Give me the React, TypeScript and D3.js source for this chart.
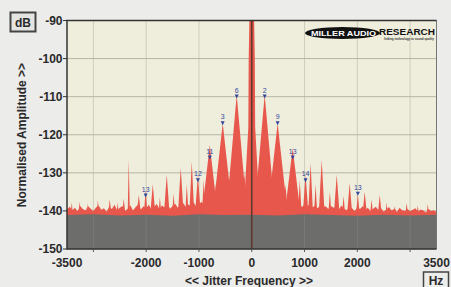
import * as d3 from 'd3'

// jitter spectrum, red = measured, grey = floor
const xTickValues = [-3500, -2000, -1000, 0, 1000, 2000, 3500]
const xGridValues = [-3000, -2000, -1000, 0, 1000, 2000, 3000]
const yTickValues = [-90, -100, -110, -120, -130, -140, -150]

// noise floor of the red trace, 50 Hz bins from -3500 to 3500
const noiseDb = [
  -139.6, -138.9, -139.8, -139.2, -140.1, -138.7, -139.5, -139.9, -138.8, -139.4,
  -140.0, -139.1, -138.6, -139.7, -139.3, -140.2, -138.9, -139.5, -138.4, -139.8,
  -139.2, -138.7, -140.0, -139.4, -138.5, -139.9, -139.0, -138.3, -139.6, -138.8,
  -139.3, -138.4, -139.7, -138.9, -138.2, -139.5, -138.6, -139.1, -138.0, -139.4,
  -138.7, -138.1, -139.2, -138.5, -137.9, -139.0, -138.3, -138.8, -137.8, -138.9,
  -138.2, -137.6, -138.7, -138.0, -137.5, -138.6, -137.8, -138.3, -137.4, -138.5,
  -137.7, -137.2, -138.1, -137.5, -137.0, -137.9, -137.3, -137.6, -136.8, -137.4,
  -137.0,
  -137.3, -136.9, -137.8, -137.1, -137.6, -138.0, -137.4, -138.2, -137.7, -138.4,
  -137.9, -138.5, -137.6, -138.3, -138.8, -137.9, -138.6, -138.1, -139.0, -138.4,
  -138.9, -138.2, -139.1, -138.6, -139.3, -138.5, -139.0, -138.8, -139.5, -138.7,
  -139.2, -138.9, -139.6, -138.6, -139.4, -139.8, -138.9, -139.3, -140.0, -139.1,
  -139.5, -138.8, -139.7, -139.2, -140.1, -139.4, -138.9, -139.8, -139.3, -140.2,
  -139.6, -139.0, -139.9, -139.4, -140.3, -139.2, -139.8, -140.0, -139.5, -140.1,
  -139.7, -139.3, -140.2, -139.6, -139.9, -140.4, -139.5, -140.0, -139.8, -140.3,
]
const noiseFreqs = d3.range(-3500, 3501, 50)

// jitter sidebands: centre freq (Hz), top (dB), half width at base (Hz)
const peakFreqs = [
  -3410, -3260, -3105, -2915, -2690, -2540, -2425, -2330, -2140, -2010, -1875, -1740,
  -1610, -1480, -1345, -1230, -1136, -1020, -910, -795, -680, -550, -420, -285, -140,
  140, 245, 375, 490, 640, 775, 910, 1020, 1115, 1210, 1325, 1480, 1610, 1740, 1855,
  2010, 2140, 2270, 2425, 2555, 2710, 2935, 3145, 3335,
]
const peakTops = [
  -137.8, -137.5, -138, -137.2, -137, -137.8, -136.8, -126.5, -135.8, -134.5, -133, -136.5,
  -130.5, -135.5, -128.7, -133, -127, -130.5, -132, -122.7, -133, -117, -131, -109.5, -130,
  -130, -109.5, -131, -117, -133, -123.5, -132, -130.5, -127.5, -133, -126.6, -135, -130.5,
  -136, -132.7, -135.5, -135, -137, -135.8, -137.8, -138.8, -138, -138.5, -138.2,
]
const peakWidths = [
  30, 30, 25, 30, 40, 30, 40, 22, 50, 40, 55, 35,
  60, 35, 60, 35, 50, 60, 40, 160, 50, 200, 50, 205, 60,
  60, 205, 50, 200, 50, 160, 40, 60, 50, 35, 60, 35, 60,
  35, 55, 40, 50, 35, 45, 30, 40, 35, 30, 30,
]

// the test tone itself at 0 Hz
const carrierShape: [number, number][] = [
  [-160, -142], [-65, -118], [-58, -100], [-45, -90],
  [45, -90], [58, -100], [65, -118], [160, -142],
]

// grey trace (floor)
const floorFreqs = [-3500, -3000, -2500, -2000, -1500, -1000, -500, 0, 500, 1000, 1500, 2000, 2500, 3000, 3500]
const floorDb = [-141.1, -140.9, -141.2, -141.0, -141.3, -140.9, -141.1, -141.0, -141.2, -140.9, -141.1, -141.3, -141.0, -141.2, -141.0]

// numbered markers
const markerFreqs = [-2010, -1020, -795, -550, -285, 245, 490, 775, 1020, 2010]
const markerDb = [-136.5, -132.5, -126.5, -117.5, -110.5, -110.5, -117.5, -126.5, -132.5, -136]
const markerLabels = ['13', '12', '11', '3', '6', '2', '9', '13', '14', '13']

export default function App() {
  const width = 451
  const height = 287
  const plot = { left: 67, right: 436.5, top: 20.5, bottom: 249 }

  const x = d3.scaleLinear().domain([-3500, 3500]).range([plot.left, plot.right])
  const y = d3.scaleLinear().domain([-150, -90]).range([plot.bottom, plot.top])

  const area = d3
    .area<[number, number]>()
    .x((d) => x(d[0]))
    .y0(y(-150))
    .y1((d) => y(d[1]))

  const noise = noiseFreqs.map((f, i) => [f, noiseDb[i]] as [number, number])
  const floor = floorFreqs.map((f, i) => [f, floorDb[i]] as [number, number])
  const peaks = peakFreqs.map(
    (f, i) =>
      [
        [f - peakWidths[i], -142],
        [f, peakTops[i]],
        [f + peakWidths[i], -142],
      ] as [number, number][],
  )

  const red = '#e8574c'
  const blue = '#34469a'
  const font = '"Liberation Sans", Arial, sans-serif'

  return (
    <svg
      width={width}
      height={height}
      style={{ position: 'absolute', left: 0, top: 0 }}
      fontFamily={font}
      fontWeight="bold"
    >
      <rect width={width} height={height} fill="#ececea" />
      <rect
        x={plot.left}
        y={plot.top}
        width={plot.right - plot.left}
        height={plot.bottom - plot.top}
        fill="#efeedd"
      />

      {/* grid */}
      <g>
        {xGridValues.map((v) => (
          <line key={v} x1={x(v)} x2={x(v)} y1={plot.top} y2={plot.bottom} stroke="#cfcdbc" />
        ))}
        {yTickValues.map((v) => (
          <line key={v} x1={plot.left} x2={plot.right} y1={y(v)} y2={y(v)} stroke="#b7b5a5" />
        ))}
      </g>

      {/* red spectrum */}
      <g fill={red}>
        <path d={area(noise)!} />
        {peaks.map((p, i) => (
          <path key={i} d={area(p)!} />
        ))}
        <path d={area(carrierShape)!} />
      </g>

      {/* grey floor */}
      <path d={area(floor)!} fill="#6d6d6b" />
      {xGridValues
        .filter((v) => v !== 0)
        .map((v) => (
          <line key={v} x1={x(v)} x2={x(v)} y1={y(-141)} y2={plot.bottom} stroke="#7a7a78" />
        ))}
      <line x1={x(0)} x2={x(0)} y1={y(-90)} y2={plot.bottom} stroke="#5e3a2f" strokeWidth={1.6} />

      {/* markers */}
      <g fill={blue} fontSize={7} textAnchor="middle" fontWeight="normal">
        {markerFreqs.map((f, i) => (
          <g key={i} transform={`translate(${x(f)},${y(markerDb[i])})`}>
            <path d="M-2,-4H2L0,0Z" />
            <text y={-6}>{markerLabels[i]}</text>
          </g>
        ))}
      </g>

      {/* frame */}
      <path
        d={`M${plot.left},${plot.top}H${plot.right}V${plot.bottom}`}
        fill="none"
        stroke="#777"
        strokeWidth={1}
      />
      <path
        d={`M${plot.right},${plot.top}H${plot.left}V${plot.bottom}H${plot.right}`}
        fill="none"
        stroke="#333"
        strokeWidth={1.5}
      />

      {/* y axis */}
      <g fontSize={12} textAnchor="end" fill="#2a2a2a">
        {yTickValues.map((v) => (
          <g key={v} transform={`translate(${plot.left},${y(v)})`}>
            <line x1={-4} x2={0} stroke="#333" />
            <text x={-4.5} dy="0.36em">
              {v}
            </text>
          </g>
        ))}
      </g>

      {/* x axis */}
      <g fontSize={12} textAnchor="middle" fill="#2a2a2a">
        {xGridValues.map((v) => (
          <line key={v} x1={x(v)} x2={x(v)} y1={plot.bottom} y2={plot.bottom + 3} stroke="#555" />
        ))}
        {xTickValues.map((v) => (
          <text key={v} x={x(v)} y={267}>
            {v}
          </text>
        ))}
        <text x={249} y={285}>
          {'<< Jitter Frequency >>'}
        </text>
      </g>

      <text
        transform="translate(26,135) rotate(-90)"
        textAnchor="middle"
        fontSize={12}
        fill="#2a2a2a"
      >
        {'Normalised Amplitude >>'}
      </text>

      {/* unit boxes */}
      <rect x={10.5} y={12.5} width={25} height={19} fill="#e4e4e2" stroke="#444" strokeWidth={2} />
      <text x={23} y={26.5} textAnchor="middle" fontSize={12} fill="#2a2a2a">
        dB
      </text>
      <rect x={423.5} y={272} width={25} height={16} fill="#ececea" stroke="#444" strokeWidth={1.5} />
      <text x={436} y={285} textAnchor="middle" fontSize={12} fill="#2a2a2a">
        Hz
      </text>

      {/* logo */}
      <g>
        <ellipse cx={342.5} cy={33} rx={37.5} ry={6} fill="#111" />
        <text x={311} y={36} fontSize={8} fill="#fff" textLength={65} lengthAdjust="spacingAndGlyphs">
          MILLER AUDIO
        </text>
        <text x={379} y={35} fontSize={8.5} fill="#111" textLength={56} lengthAdjust="spacingAndGlyphs">
          RESEARCH
        </text>
        <text
          x={384}
          y={40}
          fontSize={3.5}
          fill="#333"
          textLength={50}
          lengthAdjust="spacingAndGlyphs"
        >
          linking technology to sound quality
        </text>
      </g>
    </svg>
  )
}
